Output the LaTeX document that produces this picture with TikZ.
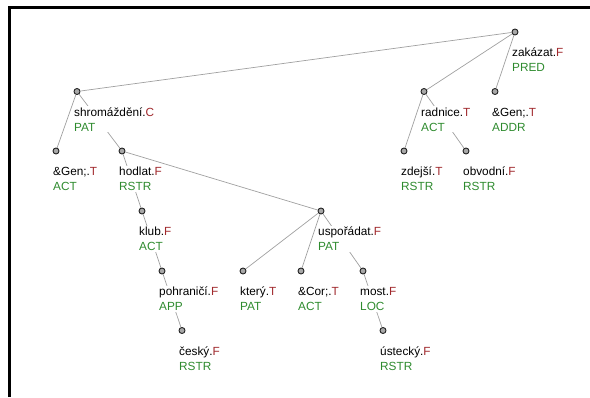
\documentclass[tikz,border=0pt]{standalone}
\usepackage{fontspec}
\setmainfont{Liberation Sans}
\definecolor{fred}{HTML}{A0282C}
\definecolor{fgreen}{HTML}{2E8B2E}
\definecolor{edgegray}{HTML}{A0A0A0}
\definecolor{dotfill}{HTML}{A8A8A8}
\definecolor{dotline}{HTML}{222222}
\tikzset{
  dot/.style={circle, draw=dotline, fill=dotfill, line width=0.9pt, minimum size=6pt, inner sep=0pt},
  lbl/.style={anchor=base west, align=left, fill=white, inner sep=1pt, font=\fontsize{11.8}{15}\selectfont},
  edge/.style={draw=edgegray, line width=0.7pt},
}
\newcommand{\tl}[3]{#1.\textcolor{fred}{#2}\\\textcolor{fgreen}{#3}}
\begin{document}
\begin{tikzpicture}[x=1pt,y=-1pt]
\useasboundingbox (0,0) rectangle (590,397);
\draw[line width=3pt] (9.5,397) -- (9.5,7.5) -- (590,7.5);
% vertices
\node[dot] (zak) at (515,32) {};
\node[dot] (shr) at (77,91.5) {};
\node[dot] (rad) at (424,91.5) {};
\node[dot] (gena) at (495,91.5) {};
\node[dot] (genb) at (56,151) {};
\node[dot] (hod) at (122,151) {};
\node[dot] (zde) at (404,151) {};
\node[dot] (obv) at (466,151) {};
\node[dot] (klu) at (142,211) {};
\node[dot] (usp) at (321,211) {};
\node[dot] (poh) at (162,271) {};
\node[dot] (kte) at (243,271) {};
\node[dot] (cor) at (301,271) {};
\node[dot] (mos) at (363,271) {};
\node[dot] (ces) at (182,330.5) {};
\node[dot] (ust) at (383,330.5) {};
% edges
\draw[edge] (zak) -- (shr);
\draw[edge] (zak) -- (rad);
\draw[edge] (zak) -- (gena);
\draw[edge] (shr) -- (genb);
\draw[edge] (shr) -- (hod);
\draw[edge] (hod) -- (klu);
\draw[edge] (hod) -- (usp);
\draw[edge] (klu) -- (poh);
\draw[edge] (poh) -- (ces);
\draw[edge] (usp) -- (kte);
\draw[edge] (usp) -- (cor);
\draw[edge] (usp) -- (mos);
\draw[edge] (mos) -- (ust);
\draw[edge] (rad) -- (zde);
\draw[edge] (rad) -- (obv);
% labels (base = baseline of the last line)
\node[lbl] (lzak) at ([shift={(-4,39.5)}]zak.center) {\tl{zakázat}{F}{PRED}};
\node[lbl] (lshr) at ([shift={(-4,39.5)}]shr.center) {\tl{shromáždění}{C}{PAT}};
\node[lbl] (lrad) at ([shift={(-4,39.5)}]rad.center) {\tl{radnice}{T}{ACT}};
\node[lbl] (lgena) at ([shift={(-4,39.5)}]gena.center) {\tl{\&Gen;}{T}{ADDR}};
\node[lbl] (lgenb) at ([shift={(-4,39.5)}]genb.center) {\tl{\&Gen;}{T}{ACT}};
\node[lbl] (lhod) at ([shift={(-4,39.5)}]hod.center) {\tl{hodlat}{F}{RSTR}};
\node[lbl] (lzde) at ([shift={(-4,39.5)}]zde.center) {\tl{zdejší}{T}{RSTR}};
\node[lbl] (lobv) at ([shift={(-4,39.5)}]obv.center) {\tl{obvodní}{F}{RSTR}};
\node[lbl] (lklu) at ([shift={(-4,39.5)}]klu.center) {\tl{klub}{F}{ACT}};
\node[lbl] (lusp) at ([shift={(-4,39.5)}]usp.center) {\tl{uspořádat}{F}{PAT}};
\node[lbl] (lpoh) at ([shift={(-4,39.5)}]poh.center) {\tl{pohraničí}{F}{APP}};
\node[lbl] (lkte) at ([shift={(-4,39.5)}]kte.center) {\tl{který}{T}{PAT}};
\node[lbl] (lcor) at ([shift={(-4,39.5)}]cor.center) {\tl{\&Cor;}{T}{ACT}};
\node[lbl] (lmos) at ([shift={(-4,39.5)}]mos.center) {\tl{most}{F}{LOC}};
\node[lbl] (lces) at ([shift={(-4,39.5)}]ces.center) {\tl{český}{F}{RSTR}};
\node[lbl] (lust) at ([shift={(-4,39.5)}]ust.center) {\tl{ústecký}{F}{RSTR}};
\end{tikzpicture}
\end{document}
